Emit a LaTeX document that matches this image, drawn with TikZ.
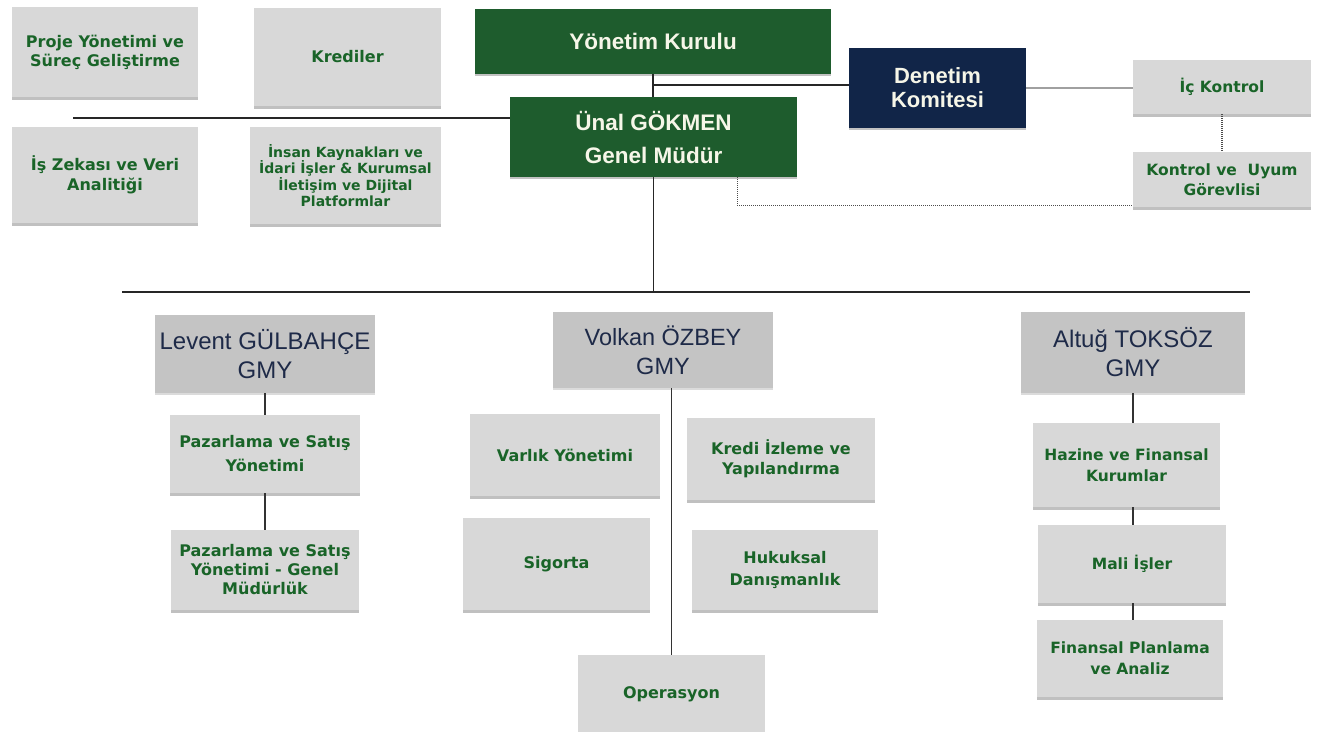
\documentclass[tikz,border=0pt]{standalone}
\usepackage{fontspec}
\setmainfont{Liberation Sans}
\newfontfamily\tah{DejaVu Sans}
\usetikzlibrary{shadows}
\definecolor{boxgray}{RGB}{216,216,216}
\definecolor{gmygray}{RGB}{196,196,196}
\definecolor{dgreen}{RGB}{30,92,45}
\definecolor{navy}{RGB}{17,37,72}
\definecolor{gtext}{RGB}{25,100,40}
\definecolor{ntext}{RGB}{30,42,72}
\definecolor{wtext}{RGB}{246,246,232}
\definecolor{lgrayline}{RGB}{160,160,160}
\newcommand\gf[2]{\tah\bfseries\fontsize{#1}{#2}\selectfont}
\newcommand\af[2]{\fontsize{#1}{#2}\selectfont}
\tikzset{
  x=1pt, y=-1pt,
  unit/.style={fill=boxgray, inner sep=0pt, align=center, text=gtext,
    drop shadow={shadow xshift=0pt, shadow yshift=-3pt, fill=black!55, opacity=.45}},
  gmy/.style={fill=gmygray, inner sep=0pt, align=center, text=ntext,
    drop shadow={shadow xshift=0pt, shadow yshift=-2pt, fill=black!40, opacity=.35}},
  greenbox/.style={fill=dgreen, inner sep=0pt, align=center, text=wtext,
    drop shadow={shadow xshift=0pt, shadow yshift=-2pt, fill=black!60, opacity=.4}},
  navybox/.style={fill=navy, inner sep=0pt, align=center, text=wtext,
    drop shadow={shadow xshift=0pt, shadow yshift=-2pt, fill=black!60, opacity=.4}},
  main/.style={draw=black!85, line width=1.4pt},
  sub/.style={draw=black!80, line width=1.3pt},
  grayline/.style={draw=lgrayline, line width=2.6pt},
  dotline/.style={draw=black!70, line width=1.3pt, dash pattern=on 1pt off 1pt},
}
\begin{document}
\begin{tikzpicture}
\useasboundingbox (0,0) rectangle (1327,731);
% top left units
\node[unit, minimum width=186pt, minimum height=90pt, font={\gf{16}{19}}] (proje) at (105,52) {Proje Yönetimi ve\\Süreç Geliştirme};
\node[unit, minimum width=187pt, minimum height=98pt, font={\gf{16}{19}}] (krediler) at (347.5,57) {Krediler};
\node[unit, minimum width=186pt, minimum height=96pt, font={\gf{16}{20}}] (iszeka) at (105,175) {İş Zekası ve Veri\\Analitiği};
\node[unit, minimum width=191pt, minimum height=97pt, font={\gf{14}{16.5}}] (insan) at (345.5,175.5) {İnsan Kaynakları ve\\İdari İşler \& Kurumsal\\İletişim ve Dijital\\Platformlar};
% board and GM
\node[greenbox, minimum width=356pt, minimum height=65pt, font={\bfseries\af{22.5}{27}}] (yk) at (653,41.5) {Yönetim Kurulu};
\node[greenbox, minimum width=287pt, minimum height=80pt, font={\bfseries\af{22.5}{33}}] (unal) at (653.5,137) {Ünal GÖKMEN\\Genel Müdür};
\node[navybox, minimum width=177pt, minimum height=80pt, font={\bfseries\af{22}{24}}] (denetim) at (937.5,88) {Denetim\\Komitesi};
\node[unit, minimum width=178pt, minimum height=54pt, font={\gf{15.5}{18}}] (ickontrol) at (1222,87) {İç Kontrol};
\node[unit, minimum width=178pt, minimum height=55pt, font={\gf{15.5}{20}}] (kontrol) at (1222,179.5) {Kontrol ve\ \ Uyum\\Görevlisi};
% GMY boxes
\node[gmy, minimum width=220pt, minimum height=78pt, font={\af{24}{29}}] (levent) at (265,354) {Levent GÜLBAHÇE\\GMY};
\node[gmy, minimum width=220pt, minimum height=76pt, font={\af{23.5}{29}}] (volkan) at (663,350) {Volkan ÖZBEY\\GMY};
\node[gmy, minimum width=224pt, minimum height=81pt, font={\af{24}{29}}] (altug) at (1133,352.5) {Altuğ TOKSÖZ\\GMY};
% Levent units
\node[unit, minimum width=190pt, minimum height=78pt, font={\gf{16}{24}}] (paz1) at (265,454) {Pazarlama ve Satış\\Yönetimi};
\node[unit, minimum width=188pt, minimum height=80pt, font={\gf{16}{19}}] (paz2) at (265,570) {Pazarlama ve Satış\\Yönetimi - Genel\\Müdürlük};
% Volkan units
\node[unit, minimum width=190pt, minimum height=82pt, font={\gf{16}{20}}] (varlik) at (565,455) {Varlık Yönetimi};
\node[unit, minimum width=188pt, minimum height=82pt, font={\gf{16}{20}}] (kredi) at (781,459) {Kredi İzleme ve\\Yapılandırma};
\node[unit, minimum width=187pt, minimum height=92pt, font={\gf{16}{20}}] (sigorta) at (556.5,564) {Sigorta};
\node[unit, minimum width=186pt, minimum height=80pt, font={\gf{16}{22}}] (hukuk) at (785,570) {Hukuksal\\Danışmanlık};
\node[unit, minimum width=187pt, minimum height=78pt, font={\gf{16}{20}}] (operasyon) at (671.5,694) {Operasyon};
% Altug units
\node[unit, minimum width=187pt, minimum height=84pt, font={\gf{15.5}{21}}] (hazine) at (1126.5,465) {Hazine ve Finansal\\Kurumlar};
\node[unit, minimum width=188pt, minimum height=78pt, font={\gf{15.5}{20}}] (mali) at (1132,564) {Mali İşler};
\node[unit, minimum width=186pt, minimum height=77pt, font={\gf{15.5}{21}}] (finplan) at (1130,658.5) {Finansal Planlama\\ve Analiz};
% free ends
\coordinate (leftend) at (73,118);
\coordinate (barL) at (122,292);
\coordinate (barR) at (1250,292);
% connectors
\draw[main] (yk.south) -- (yk.south |- unal.north);
\draw[main] (yk.south |- 0,85) -- ([yshift=3pt]denetim.west);
\draw[grayline] (denetim.east) -- (denetim.east -| ickontrol.west);
\draw[main] (leftend) -- (leftend -| unal.west);
\draw[dotline] ([xshift=-60pt]unal.south east) |- ([yshift=2pt]kontrol.south west);
\draw[dotline] (ickontrol.south) -- (kontrol.north);
\draw[main] (unal.south) -- (unal.south |- barL);
\draw[main] (barL) -- (barR);
\draw[sub] (levent.south) -- (paz1.north);
\draw[sub] (paz1.south) -- (paz2.north);
\draw[sub] (operasyon.north |- volkan.south) -- (operasyon.north);
\draw[sub] (altug.south) -- (altug.south |- hazine.north);
\draw[sub] (altug.south |- hazine.south) -- (altug.south |- mali.north);
\draw[sub] (altug.south |- mali.south) -- (altug.south |- finplan.north);
\end{tikzpicture}
\end{document}
